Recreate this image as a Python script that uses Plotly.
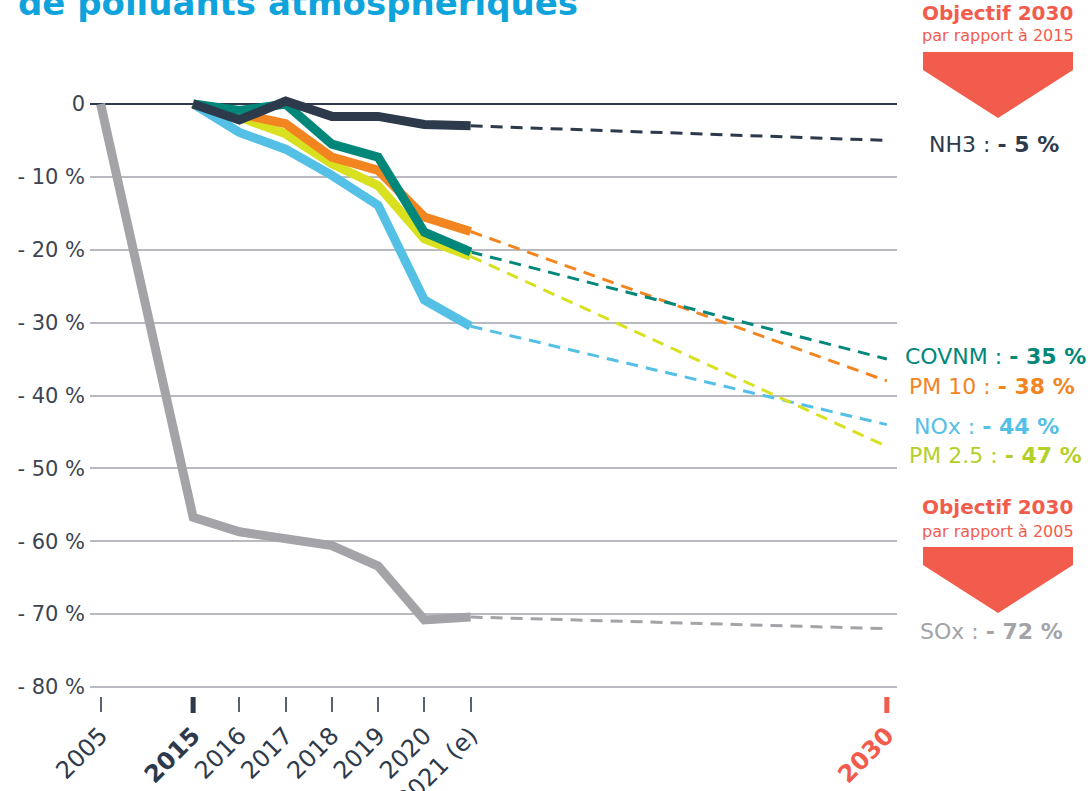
import plotly.graph_objects as go

# ---------------- data ----------------
years = [2015, 2016, 2017, 2018, 2019, 2020, 2021]
sox_years = [2005, 2015, 2016, 2017, 2018, 2019, 2020, 2021]

nh3 = [0, -2.2, 0.4, -1.7, -1.7, -2.8, -3.0]
covnm = [0, -0.9, 0.0, -5.5, -7.3, -17.6, -20.3]
pm10 = [0, -1.3, -2.7, -7.3, -9.1, -15.5, -17.5]
pm25 = [0, -1.8, -4.1, -8.2, -11.2, -18.5, -20.9]
nox = [0, -3.9, -6.2, -9.8, -13.9, -26.9, -30.5]
sox = [0, -56.7, -58.7, -59.7, -60.6, -63.4, -70.8, -70.4]

target_year = 2030
names = ["SOx", "NOx", "PM 2.5", "PM 10", "COVNM", "NH3"]
targets = [-72, -44, -47, -38, -35, -5]
colors = ["#a3a3a8", "#55c0e6", "#d8e020", "#f2851f", "#00877a", "#2d3a4b"]
label_colors = ["#a3a3a8", "#55c0e6", "#b5cf2a", "#f2851f", "#00877a", "#2d3a4b"]
label_y = [-72.4, -44.3, -48.3, -38.8, -34.7, -5.6]
label_x_px = [918, 912, 907, 907, 903, 927]

tick_years = [2005, 2015, 2016, 2017, 2018, 2019, 2020, 2021, 2030]
tick_text = ["2005", "<b>2015</b>", "2016", "2017", "2018", "2019", "2020", "2021 (e)",
             "<span style='color:#f25c4c'><b>2030</b></span>"]
y_ticks = [0, -10, -20, -30, -40, -50, -60, -70, -80]
y_text = ["0"] + ["- %d %%" % abs(v) for v in y_ticks[1:]]

RED = "#f25c4c"
NAVY = "#2d3a4b"
FONT = "DejaVu Sans"


def xpos(year):
    # compressed scale before 2015 (axis break between 2005 and 2015)
    return year if year >= 2015 else 2015 - (2015 - year) / 5.0


W, H = 1090, 791
ML, MT = 90, 90
MR = W - 897
MB = H - 696
PW, PH = W - ML - MR, H - MT - MB


def px(xp):
    return (xp - ML) / PW


def py(yp):
    return (H - MB - yp) / PH


series = [sox, nox, pm25, pm10, covnm, nh3]
series_years = [sox_years, years, years, years, years, years]

fig = go.Figure()

# dashed projections to 2030
for s, yrs, t, c in zip(series, series_years, targets, colors):
    fig.add_trace(go.Scatter(
        x=[xpos(yrs[-1]), xpos(target_year)], y=[s[-1], t],
        mode="lines", line=dict(color=c, width=3, dash="12px,8px"),
        hoverinfo="skip", showlegend=False))

# solid history lines
for s, yrs, c, n in zip(series, series_years, colors, names):
    fig.add_trace(go.Scatter(
        x=[xpos(y) for y in yrs], y=s, mode="lines", name=n,
        line=dict(color=c, width=9), showlegend=False))

annotations = []
# end labels
for n, t, c, ly, lx in zip(names, targets, label_colors, label_y, label_x_px):
    annotations.append(dict(
        x=px(lx), xref="paper", y=ly, yref="y", xanchor="left", yanchor="middle",
        text="%s : <b>- %d %%</b>" % (n, abs(t)), showarrow=False,
        font=dict(family=FONT, size=22, color=c)))

# title (cut at the top)
annotations.append(dict(
    x=px(16), xref="paper", y=py(25), yref="paper", xanchor="left", yanchor="bottom",
    text="<b>de polluants atmosphériques</b>", showarrow=False,
    font=dict(family=FONT, size=34, color="#0fa3dc")))

# objective boxes
for title_y, sub_y, ref in [(13, 35, "2015"), (507, 531, "2005")]:
    annotations.append(dict(
        x=px(998), xref="paper", y=py(title_y), yref="paper", xanchor="center", yanchor="middle",
        text="<b>Objectif 2030</b>", showarrow=False,
        font=dict(family=FONT, size=20, color=RED)))
    annotations.append(dict(
        x=px(998), xref="paper", y=py(sub_y), yref="paper", xanchor="center", yanchor="middle",
        text="par rapport à %s" % ref, showarrow=False,
        font=dict(family=FONT, size=16, color=RED)))

shapes = []
for top in [52, 547]:
    pts = [(923, top), (1073, top), (1073, top + 18), (998, top + 66), (923, top + 18)]
    path = "M " + " L ".join("%f,%f" % (px(a), py(b)) for a, b in pts) + " Z"
    shapes.append(dict(type="path", path=path, xref="paper", yref="paper",
                       fillcolor=RED, line=dict(width=0)))

# emphasised ticks for 2015 and 2030
for yr, c in [(2015, NAVY), (2030, RED)]:
    shapes.append(dict(type="line", xref="x", yref="paper",
                       x0=xpos(yr), x1=xpos(yr), y0=py(697), y1=py(713),
                       line=dict(color=c, width=5)))

y_bottom = -80 - 9 / 7.288
y_top = 14 / 7.288

fig.update_layout(
    width=W, height=H,
    margin=dict(l=ML, r=MR, t=MT, b=MB, autoexpand=False),
    paper_bgcolor="white", plot_bgcolor="white",
    annotations=annotations, shapes=shapes,
    font=dict(family=FONT, color=NAVY),
    xaxis=dict(
        range=[2012.77, 2030.22], tickvals=[xpos(y) for y in tick_years], ticktext=tick_text,
        tickangle=-45, showgrid=False, zeroline=False, showline=False, automargin=False,
        ticks="outside", ticklen=15, tickwidth=1.5, tickcolor="#5a6270",
        tickfont=dict(family=FONT, size=24, color=NAVY)),
    yaxis=dict(
        range=[y_bottom, y_top], tickvals=y_ticks, ticktext=y_text, automargin=False,
        showgrid=True, gridcolor="#b9b9c0", gridwidth=1.5,
        zeroline=True, zerolinecolor=NAVY, zerolinewidth=2,
        showline=False, ticks="", ticklabelstandoff=4,
        tickfont=dict(family=FONT, size=21, color="#3d4451")),
)

fig.write_html("out.html", config={"displayModeBar": False},
               post_script="document.body.style.margin='0';")
